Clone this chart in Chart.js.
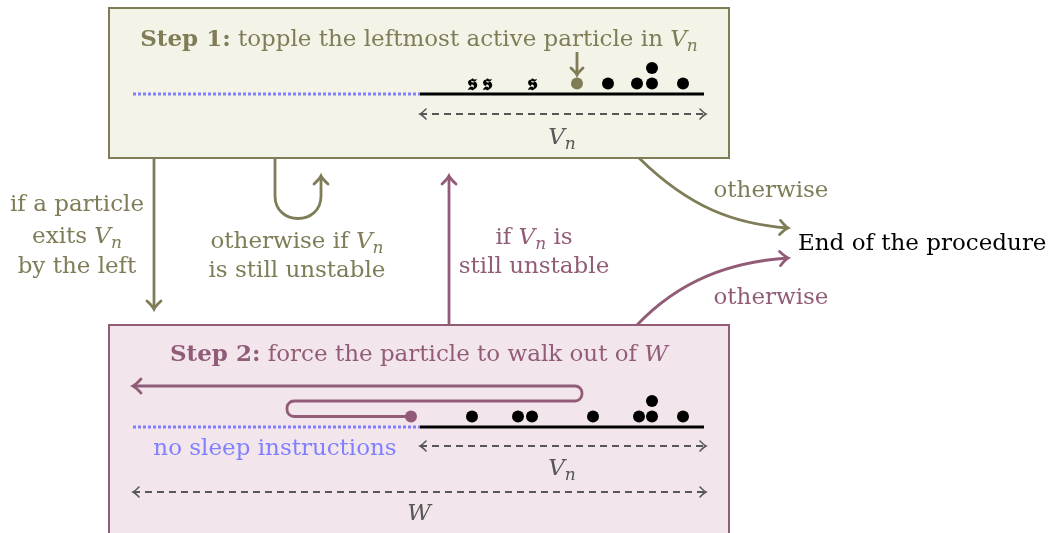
<!DOCTYPE html>
<html>
<head>
<meta charset="utf-8">
<script src="https://cdn.jsdelivr.net/npm/chart.js@4"></script>
<style>
  html, body { margin: 0; padding: 0; background: #fff; }
  #wrap { width: 1048px; height: 533px; }
</style>
</head>
<body>
<div id="wrap"><canvas id="diagram"></canvas></div>
<script>
// particle sites on the tracks (diagram units, same as the picture's pixels)
const step1Sleeping = [472, 487, 532];
const step1Toppled = [577];
const step1Awake = [608, 637, 652, 652, 683];
const step1AwakeLevel = [0, 0, 0, 1, 0];
const step2Walker = [411];
const step2Awake = [472, 518, 532, 593, 639, 652, 652, 683];
const step2AwakeLevel = [0, 0, 0, 0, 0, 0, 1, 0];

// track: sites without instructions | V_n
const trackStart = 133, vnStart = 420, trackEnd = 704;
const track1Y = 94, track2Y = 427;

const OLIVE = '#7f7c57';
const MAUVE = '#925c78';
const BLUE = '#8080ff';
const GRAY = '#575757';
const SERIF = '"DejaVu Serif", serif';

function particles(xs, levels, trackY) {
    return xs.map((v, i) => ({ x: v, y: trackY - 10.5 - 15.5 * (levels ? levels[i] : 0) }));
}
function seg(x1, x2, yy) {
    return [{ x: x1, y: yy }, { x: x2, y: yy }];
}
function lineSet(data, color, width, dash) {
    return {
        type: 'scatter', data: data, showLine: true, borderColor: color, borderWidth: width,
        borderDash: dash || [], pointRadius: 0, borderCapStyle: 'butt', fill: false
    };
}
function dotSet(data, color) {
    return {
        type: 'scatter', data: data, backgroundColor: color, borderWidth: 0,
        pointRadius: 6, pointHoverRadius: 6
    };
}

// arrow head ("to" style), tip at px,py pointing along angle
function head(ctx, px, py, ang, color, len, wid, lw) {
    ctx.save();
    ctx.translate(px, py);
    ctx.rotate(ang);
    ctx.strokeStyle = color;
    ctx.lineWidth = lw;
    ctx.lineCap = 'round';
    ctx.setLineDash([]);
    ctx.beginPath();
    ctx.moveTo(-len, -wid);
    ctx.quadraticCurveTo(-len * 0.35, -wid * 0.2, 0, 0);
    ctx.quadraticCurveTo(-len * 0.35, wid * 0.2, -len, wid);
    ctx.stroke();
    ctx.restore();
}

function rich(ctx, parts, x, y, size, color, align) {
    const fonts = {
        r: size + 'px ' + SERIF,
        b: 'bold ' + size + 'px ' + SERIF,
        i: 'italic ' + size + 'px ' + SERIF,
        s: 'italic ' + Math.round(size * 0.72) + 'px ' + SERIF
    };
    let total = 0;
    const ws = parts.map(p => {
        ctx.font = fonts[p[1]];
        const w = ctx.measureText(p[0]).width;
        total += w;
        return w;
    });
    let cx = align === 'left' ? x : x - total / 2;
    ctx.fillStyle = color;
    ctx.textBaseline = 'alphabetic';
    ctx.textAlign = 'left';
    parts.forEach((p, i) => {
        ctx.font = fonts[p[1]];
        ctx.fillText(p[0], cx, y + (p[1] === 's' ? size * 0.22 : 0));
        cx += ws[i];
    });
}

const diagramPlugin = {
    id: 'diagramPlugin',
    beforeDatasetsDraw(chart) {
        const ctx = chart.ctx;
        const X = v => chart.scales.x.getPixelForValue(v);
        const Y = v => chart.scales.y.getPixelForValue(v);
        ctx.save();
        ctx.lineWidth = 2;
        ctx.fillStyle = '#f3f3e7';
        ctx.strokeStyle = OLIVE;
        ctx.fillRect(X(109), Y(8), X(729) - X(109), Y(158) - Y(8));
        ctx.strokeRect(X(109), Y(8), X(729) - X(109), Y(158) - Y(8));
        ctx.fillStyle = '#f2e6ec';
        ctx.strokeStyle = MAUVE;
        ctx.fillRect(X(109), Y(325), X(729) - X(109), Y(545) - Y(325));
        ctx.strokeRect(X(109), Y(325), X(729) - X(109), Y(545) - Y(325));
        ctx.restore();
    },
    afterDatasetsDraw(chart) {
        const ctx = chart.ctx;
        const X = v => chart.scales.x.getPixelForValue(v);
        const Y = v => chart.scales.y.getPixelForValue(v);
        ctx.save();

        // dashed span arrows heads
        [track1Y + 20, track2Y + 19].forEach(r => {
            head(ctx, X(vnStart), Y(r), Math.PI, GRAY, 6, 5, 1.6);
            head(ctx, X(trackEnd + 2), Y(r), 0, GRAY, 6, 5, 1.6);
        });
        head(ctx, X(trackStart), Y(492), Math.PI, GRAY, 6, 5, 1.6);
        head(ctx, X(trackEnd + 2), Y(492), 0, GRAY, 6, 5, 1.6);

        // sleeping particles
        ctx.fillStyle = '#000';
        ctx.font = 'bold 24px "DejaVu Serif", "DejaVu Sans", serif';
        ctx.textAlign = 'center';
        ctx.textBaseline = 'alphabetic';
        step1Sleeping.forEach(v => ctx.fillText('\u{1D598}', X(v), Y(track1Y - 4)));

        // toppling arrow in step 1
        const lw = 2.8;
        ctx.strokeStyle = OLIVE;
        ctx.lineWidth = lw;
        ctx.beginPath();
        ctx.moveTo(X(step1Toppled[0]), Y(52));
        ctx.lineTo(X(step1Toppled[0]), Y(75));
        ctx.stroke();
        head(ctx, X(step1Toppled[0]), Y(75), Math.PI / 2, OLIVE, 7, 6, lw);

        // walk of the particle in step 2
        const wy = track2Y - 10.5;
        ctx.strokeStyle = MAUVE;
        ctx.lineWidth = lw;
        ctx.beginPath();
        ctx.moveTo(X(step2Walker[0]), Y(wy));
        ctx.arcTo(X(287), Y(wy), X(287), Y(401), 7);
        ctx.arcTo(X(287), Y(401), X(582), Y(401), 7);
        ctx.arcTo(X(582), Y(401), X(582), Y(386), 7);
        ctx.arcTo(X(582), Y(386), X(trackStart), Y(386), 7);
        ctx.lineTo(X(trackStart), Y(386));
        ctx.stroke();
        head(ctx, X(trackStart), Y(386), Math.PI, MAUVE, 8, 7, lw);

        // transitions
        ctx.strokeStyle = OLIVE;
        ctx.beginPath();
        ctx.moveTo(X(154), Y(158));
        ctx.lineTo(X(154), Y(309));
        ctx.stroke();
        head(ctx, X(154), Y(309), Math.PI / 2, OLIVE, 8, 7, lw);

        ctx.beginPath();
        ctx.moveTo(X(275), Y(158));
        ctx.lineTo(X(275), Y(196));
        ctx.bezierCurveTo(X(275), Y(226), X(321), Y(226), X(321), Y(196));
        ctx.lineTo(X(321), Y(176));
        ctx.stroke();
        head(ctx, X(321), Y(176), -Math.PI / 2, OLIVE, 8, 7, lw);

        ctx.beginPath();
        ctx.moveTo(X(639), Y(158));
        ctx.bezierCurveTo(X(690), Y(208), X(735), Y(224), X(788), Y(228));
        ctx.stroke();
        head(ctx, X(788), Y(228), 0.07, OLIVE, 8, 7, lw);

        ctx.strokeStyle = MAUVE;
        ctx.beginPath();
        ctx.moveTo(X(449), Y(325));
        ctx.lineTo(X(449), Y(176));
        ctx.stroke();
        head(ctx, X(449), Y(176), -Math.PI / 2, MAUVE, 8, 7, lw);

        ctx.beginPath();
        ctx.moveTo(X(637), Y(325));
        ctx.bezierCurveTo(X(680), Y(280), X(730), Y(262), X(788), Y(258));
        ctx.stroke();
        head(ctx, X(788), Y(258), -0.07, MAUVE, 8, 7, lw);

        // texts
        const fs = 23;
        rich(ctx, [['Step 1:', 'b'], [' topple the leftmost active particle in ', 'r'], ['V', 'i'], ['n', 's']], X(419), Y(46), fs, OLIVE);
        rich(ctx, [['V', 'i'], ['n', 's']], X(562), Y(144), fs, GRAY);
        rich(ctx, [['if a particle', 'r']], X(77), Y(211), fs, OLIVE);
        rich(ctx, [['exits ', 'r'], ['V', 'i'], ['n', 's']], X(77), Y(243), fs, OLIVE);
        rich(ctx, [['by the left', 'r']], X(77), Y(273), fs, OLIVE);
        rich(ctx, [['otherwise if ', 'r'], ['V', 'i'], ['n', 's']], X(297), Y(248), fs, OLIVE);
        rich(ctx, [['is still unstable', 'r']], X(297), Y(277), fs, OLIVE);
        rich(ctx, [['if ', 'r'], ['V', 'i'], ['n', 's'], [' is', 'r']], X(534), Y(244), fs, MAUVE);
        rich(ctx, [['still unstable', 'r']], X(534), Y(273), fs, MAUVE);
        rich(ctx, [['otherwise', 'r']], X(771), Y(197), fs, OLIVE);
        rich(ctx, [['otherwise', 'r']], X(771), Y(304), fs, MAUVE);
        rich(ctx, [['End of the procedure', 'r']], X(798), Y(250), fs, '#000', 'left');
        rich(ctx, [['Step 2:', 'b'], [' force the particle to walk out of ', 'r'], ['W', 'i']], X(419), Y(361), fs, MAUVE);
        rich(ctx, [['no sleep instructions', 'r']], X(275), Y(455), fs, BLUE);
        rich(ctx, [['V', 'i'], ['n', 's']], X(562), Y(475), fs, GRAY);
        rich(ctx, [['W', 'i']], X(419), Y(520), fs, GRAY);
        ctx.restore();
    }
};

new Chart(document.getElementById('diagram'), {
    type: 'scatter',
    data: {
        datasets: [
            lineSet(seg(trackStart, vnStart, track1Y), BLUE, 3, [3, 2]),
            lineSet(seg(vnStart, trackEnd, track1Y), '#000', 3),
            lineSet(seg(vnStart, trackEnd + 2, track1Y + 20), GRAY, 1.8, [7, 5]),
            lineSet(seg(trackStart, vnStart, track2Y), BLUE, 3, [3, 2]),
            lineSet(seg(vnStart, trackEnd, track2Y), '#000', 3),
            lineSet(seg(vnStart, trackEnd + 2, track2Y + 19), GRAY, 1.8, [7, 5]),
            lineSet(seg(trackStart, trackEnd + 2, 492), GRAY, 1.8, [7, 5]),
            dotSet(particles(step1Toppled, null, track1Y), OLIVE),
            dotSet(particles(step1Awake, step1AwakeLevel, track1Y), '#000'),
            dotSet(particles(step2Walker, null, track2Y), MAUVE),
            dotSet(particles(step2Awake, step2AwakeLevel, track2Y), '#000')
        ]
    },
    options: {
        responsive: true,
        maintainAspectRatio: false,
        animation: false,
        layout: { padding: 0, autoPadding: false },
        plugins: { legend: { display: false }, tooltip: { enabled: false } },
        scales: {
            x: { type: 'linear', min: 0, max: 1048, display: false },
            y: { type: 'linear', min: 0, max: 533, reverse: true, display: false }
        }
    },
    plugins: [diagramPlugin]
});
</script>
</body>
</html>
